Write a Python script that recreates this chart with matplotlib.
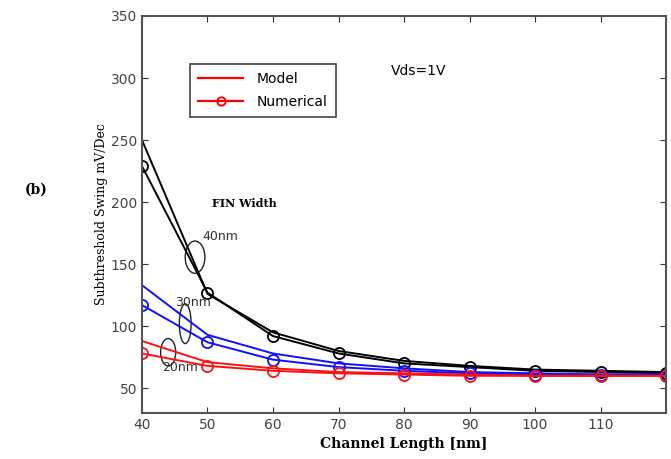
import numpy as np
from matplotlib import pyplot as plt
from matplotlib.patches import Ellipse
from matplotlib.lines import Line2D

# channel length [nm]
length = [40, 50, 60, 70, 80, 90, 100, 110, 120]

# subthreshold swing [mV/Dec], model and numerical, per fin width
model_40 = [250, 126, 95, 80, 72, 68, 65, 64, 63]
num_40 = [229, 127, 92, 78, 70, 67, 64, 63, 62]
model_30 = [133, 93, 78, 70, 66, 63, 62, 61, 61]
num_30 = [117, 87, 73, 67, 64, 62, 61, 61, 61]
model_20 = [88, 71, 66, 63, 62, 61, 60, 60, 60]
num_20 = [78, 68, 64, 62, 61, 60, 60, 60, 60]

xticks = [40, 50, 60, 70, 80, 90, 100, 110, 120]
xlabels = ['40', '50', '60', '70', '80', '90', '100', '110', '']
yticks = [50, 100, 150, 200, 250, 300, 350]

fig = plt.figure(figsize=(6.71, 4.59), dpi=100)
ax = fig.add_axes([0.2116, 0.1002, 0.781, 0.865])

series = [(model_40, num_40, 'black'), (model_30, num_30, '#1010ff'), (model_20, num_20, '#ff1010')]
for mod, num, col in series:
    ax.plot(length, mod, '-', color=col, lw=1.4)
    ax.plot(length, num, '-o', color=col, lw=1.4, ms=8, mfc='none', mew=1.3)

ax.set_xlim(40, 120)
ax.set_ylim(30, 350)
ax.set_xticks(xticks)
ax.set_xticklabels(xlabels)
ax.set_yticks(yticks)
ax.tick_params(direction='in', top=True, right=True, labelsize=10, length=4, colors='#333333')
for lab in ax.get_xticklabels() + ax.get_yticklabels():
    lab.set_color('#444444')
for s in ax.spines.values():
    s.set_color('#555555')
    s.set_linewidth(1.5)

ax.set_xlabel('Channel Length [nm]', family='DejaVu Serif', fontweight='bold', fontsize=10, labelpad=4)
ax.set_ylabel('Subthreshold Swing mV/Dec', family='DejaVu Serif', fontsize=9, labelpad=2)

# legend
handles = [Line2D([], [], color='red', lw=1.6),
           Line2D([], [], color='red', lw=1.6, marker='o', ms=6, mfc='none', mew=1.4)]
leg = ax.legend(handles, ['Model', 'Numerical'], loc='upper left',
                bbox_to_anchor=(190 / 671, 1 - 64 / 459), bbox_transform=fig.transFigure,
                fancybox=False, edgecolor='#444444', framealpha=1, fontsize=10,
                handlelength=3.2, handletextpad=1.0, borderpad=0.6, labelspacing=0.6,
                borderaxespad=0)
leg.get_frame().set_linewidth(1.2)

ax.text(78.0, 306, 'Vds=1V', fontsize=10, va='center')
ax.text(50.7, 199, 'FIN Width', family='DejaVu Serif', fontweight='bold', fontsize=8, va='center')
ax.text(49.2, 172, '40nm', fontsize=9, va='center', color='#333333')
ax.text(45.0, 119, '30nm', fontsize=9, va='center', color='#333333')
ax.text(43.1, 67, '20nm', fontsize=9, va='center', color='#333333')

ax.add_patch(Ellipse((48.1, 155.6), 3.0, 26, fill=False, ec='#222222', lw=1))
ax.add_patch(Ellipse((46.6, 102), 1.8, 32, fill=False, ec='#222222', lw=1))
ax.add_patch(Ellipse((44.0, 79), 2.3, 22, fill=False, ec='#222222', lw=1))

fig.text(25 / 671, 1 - 190 / 459, '(b)', family='DejaVu Serif', fontweight='bold', fontsize=10, va='center')

fig.savefig('out.png', dpi=100)
